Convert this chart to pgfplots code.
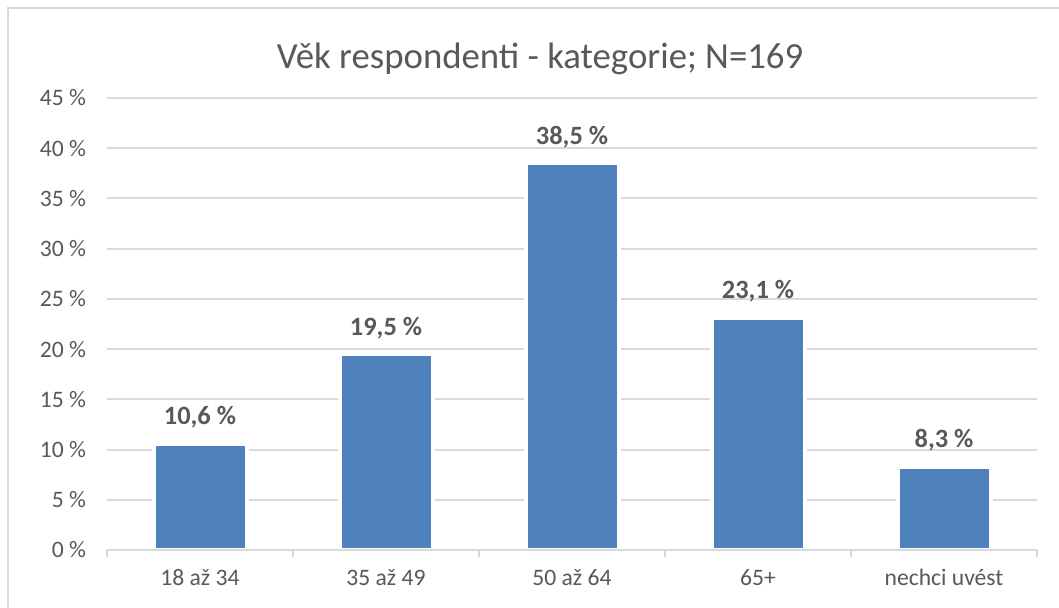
\documentclass[border=0pt]{standalone}
\usepackage{pgfplots}
\pgfplotsset{compat=1.18}
\usepackage{fontspec}
\setmainfont{Carlito}
\definecolor{barc}{HTML}{4F81BD}
\definecolor{txt}{HTML}{595959}
\definecolor{gridc}{HTML}{D9D9D9}
\begin{document}
\begin{tikzpicture}
\useasboundingbox (0,0) rectangle (529.5pt,303.5pt);
\fill[white] (0,0) rectangle (529.5pt,303.5pt);
% chart frame
\draw[gridc,line width=1pt] (4pt,-2pt) -- (4pt,299.5pt) -- (540pt,299.5pt);
% title
\node[anchor=base,text=txt,font=\fontsize{18.4}{22}\selectfont,inner sep=0pt] at (270pt,269.5pt) {Věk respondenti - kategorie; N=169};
\begin{axis}[
  at={(53.5pt,28.5pt)}, anchor=south west,
  scale only axis, width=465pt, height=226pt,
  xmin=-0.5, xmax=4.5, ymin=0, ymax=45,
  xtick={0,1,2,3,4},
  xticklabels={18 až 34,35 až 49,50 až 64,65+,nechci uvést},
  ytick={0,5,...,45},
  yticklabel={\pgfmathprintnumber{\tick}~\%},
  /pgf/number format/assume math mode=true,
  axis line style={draw=none},
  tick style={draw=none},
  ymajorgrids, grid style={gridc,line width=1pt},
  ticklabel style={text=txt,font=\fontsize{11.8}{14}\selectfont},
  xticklabel style={anchor=base,yshift=-17.5pt},
  yticklabel style={xshift=-7pt},
  clip=false,
]
\addplot[ybar, bar width=0.5, fill=barc, draw=white, line width=2pt,
  nodes near coords={\pgfmathprintnumber[fixed,precision=1,fixed zerofill,use comma]{\pgfplotspointmeta}~\%},
  nodes near coords style={anchor=base, yshift=9.5pt, text=txt, font=\fontsize{13.2}{16}\selectfont\bfseries, /pgf/number format/assume math mode=true}
] coordinates {(0,10.6) (1,19.5) (2,38.5) (3,23.1) (4,8.3)};
\draw[gridc,line width=1pt] (axis cs:-0.5,0) -- (axis cs:4.5,0);
\pgfplotsinvokeforeach{-0.5,0.5,1.5,2.5,3.5,4.5}{
  \draw[gridc,line width=1pt] (axis cs:#1,0) -- ++(0pt,-3.5pt);
}
\end{axis}
\end{tikzpicture}
\end{document}
